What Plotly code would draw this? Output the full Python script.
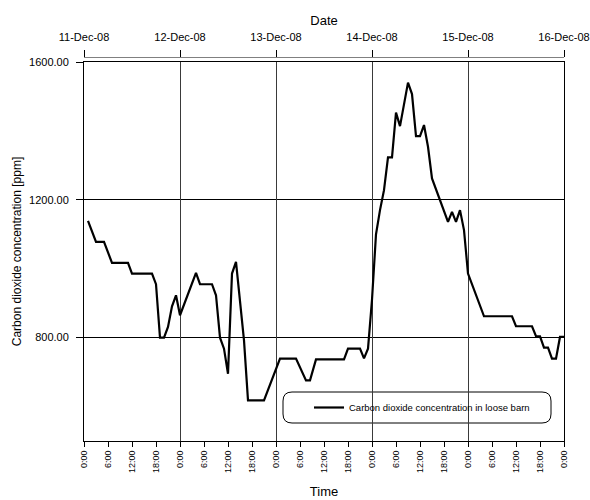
import plotly.graph_objects as go

# Carbon dioxide readings in the loose barn, 11-16 Dec 2008
times = [
    "2008-12-11 01:00", "2008-12-11 03:00", "2008-12-11 05:00", "2008-12-11 07:00",
    "2008-12-11 11:00", "2008-12-11 12:00", "2008-12-11 17:00", "2008-12-11 18:00",
    "2008-12-11 19:00", "2008-12-11 20:00", "2008-12-11 21:00", "2008-12-11 22:00",
    "2008-12-11 23:00", "2008-12-12 00:00", "2008-12-12 04:00", "2008-12-12 05:00",
    "2008-12-12 08:00", "2008-12-12 09:00", "2008-12-12 10:00", "2008-12-12 11:00",
    "2008-12-12 12:00", "2008-12-12 13:00", "2008-12-12 14:00", "2008-12-12 15:00",
    "2008-12-12 16:00", "2008-12-12 17:00", "2008-12-12 21:00", "2008-12-13 01:00",
    "2008-12-13 05:00", "2008-12-13 07:30", "2008-12-13 08:30", "2008-12-13 10:00",
    "2008-12-13 17:00", "2008-12-13 18:00", "2008-12-13 21:00", "2008-12-13 22:00",
    "2008-12-13 23:00", "2008-12-14 00:00", "2008-12-14 01:00", "2008-12-14 02:00",
    "2008-12-14 03:00", "2008-12-14 04:00", "2008-12-14 05:00", "2008-12-14 06:00",
    "2008-12-14 07:00", "2008-12-14 09:00", "2008-12-14 10:00", "2008-12-14 11:00",
    "2008-12-14 12:00", "2008-12-14 13:00", "2008-12-14 14:00", "2008-12-14 15:00",
    "2008-12-14 19:00", "2008-12-14 20:00", "2008-12-14 21:00", "2008-12-14 22:00",
    "2008-12-14 23:00", "2008-12-15 00:00", "2008-12-15 04:00", "2008-12-15 11:00",
    "2008-12-15 12:00", "2008-12-15 16:00", "2008-12-15 17:00", "2008-12-15 18:00",
    "2008-12-15 19:00", "2008-12-15 20:00", "2008-12-15 21:00", "2008-12-15 22:00",
    "2008-12-15 23:00", "2008-12-16 00:00",
]
co2_ppm = [
    1139, 1078, 1078, 1017,
    1017, 986, 986, 955,
    800, 800, 831, 891,
    923, 865, 988, 955,
    955, 923, 800, 768,
    695, 986, 1020, 909,
    792, 618, 618, 739,
    739, 676, 676, 737,
    737, 768, 768, 740,
    768, 910, 1100, 1170,
    1228, 1323, 1323, 1453,
    1414, 1540, 1507, 1385,
    1385, 1417, 1354, 1262,
    1136, 1165, 1136, 1170,
    1112, 986, 862, 862,
    833, 833, 804, 804,
    771, 771, 739, 739,
    802, 802,
]
series_name = "Carbon dioxide concentration in loose barn"

x_start, x_end = "2008-12-11 00:00", "2008-12-16 00:00"
y_min, y_max = 500, 1600
y_ticks = [800, 1200, 1600]

FONT = "Liberation Sans, Arial, sans-serif"

# plot-area geometry in pixels (used for paper-coordinate helpers)
L, R, T, B = 84, 564, 57, 441
W, H = R - L, B - T


def px(xp):
    return (xp - L) / W


def py(yp):
    return (B - yp) / H


fig = go.Figure()
fig.add_trace(go.Scatter(
    x=times, y=co2_ppm, mode="lines", name=series_name,
    line=dict(color="black", width=2.2),
    xaxis="x", yaxis="y",
))
# empty trace so the top date axis gets its own subplot and is drawn
fig.add_trace(go.Scatter(
    x=[x_start, x_end], y=[None, None], mode="lines",
    xaxis="x2", yaxis="y", showlegend=False, hoverinfo="skip",
))

# rounded frame around the legend
x0, x1, y0, y1, r = 283, 551, 392, 423, 9
rx, ry = r / W, r / H
path = (
    f"M {px(x0) + rx} {py(y0)} L {px(x1) - rx} {py(y0)} "
    f"Q {px(x1)} {py(y0)} {px(x1)} {py(y0) - ry} "
    f"L {px(x1)} {py(y1) + ry} Q {px(x1)} {py(y1)} {px(x1) - rx} {py(y1)} "
    f"L {px(x0) + rx} {py(y1)} Q {px(x0)} {py(y1)} {px(x0)} {py(y1) + ry} "
    f"L {px(x0)} {py(y0) - ry} Q {px(x0)} {py(y0)} {px(x0) + rx} {py(y0)} Z"
)

fig.update_layout(
    width=590, height=500,
    margin=dict(l=L, r=590 - R, t=T, b=500 - B, pad=0),
    paper_bgcolor="white", plot_bgcolor="white",
    font=dict(family=FONT, color="black"),
    showlegend=True,
    legend=dict(
        x=px(309), y=py(407.5), xanchor="left", yanchor="middle",
        bgcolor="rgba(0,0,0,0)", borderwidth=0,
        font=dict(size=9.5, family=FONT), itemwidth=30,
    ),
    shapes=[dict(type="path", xref="paper", yref="paper", path=path,
                 line=dict(color="black", width=1), fillcolor="white",
                 layer="below")],
    xaxis=dict(
        type="date", range=[x_start, x_end],
        dtick=6 * 3600 * 1000, tick0=x_start, tickformat="%-H:%M",
        tickangle=-90, tickfont=dict(size=9),
        ticks="outside", ticklen=5, tickcolor="black", tickwidth=1,
        showline=True, linecolor="black", linewidth=1, mirror=True,
        showgrid=False, zeroline=False, automargin=False,
        title=dict(text="Time", font=dict(size=13), standoff=14),
    ),
    xaxis2=dict(
        type="date", overlaying="x", matches="x", anchor="free", position=1,
        side="top", range=[x_start, x_end],
        dtick=24 * 3600 * 1000, tick0=x_start, tickformat="%d-%b-%y",
        tickfont=dict(size=11), ticklabelstandoff=5,
        ticks="outside", ticklen=7, tickcolor="black", tickwidth=1,
        showline=True, linecolor="#808080", linewidth=1,
        showgrid=True, gridcolor="#3a3a3a", gridwidth=1,
        zeroline=False, automargin=False,
        title=dict(text="Date", font=dict(size=13), standoff=1),
    ),
    yaxis=dict(
        range=[y_min, y_max], domain=[0, py(62)],
        tickvals=y_ticks, tickformat=".2f", tickfont=dict(size=11),
        ticklabelstandoff=5,
        ticks="outside", ticklen=7, tickcolor="black", tickwidth=1,
        showline=True, linecolor="black", linewidth=1, mirror=True,
        showgrid=True, gridcolor="black", gridwidth=1,
        zeroline=False, automargin=False,
        title=dict(text="Carbon dioxide concentration [ppm]",
                   font=dict(size=12), standoff=4),
    ),
)

fig.write_html("out.html")
